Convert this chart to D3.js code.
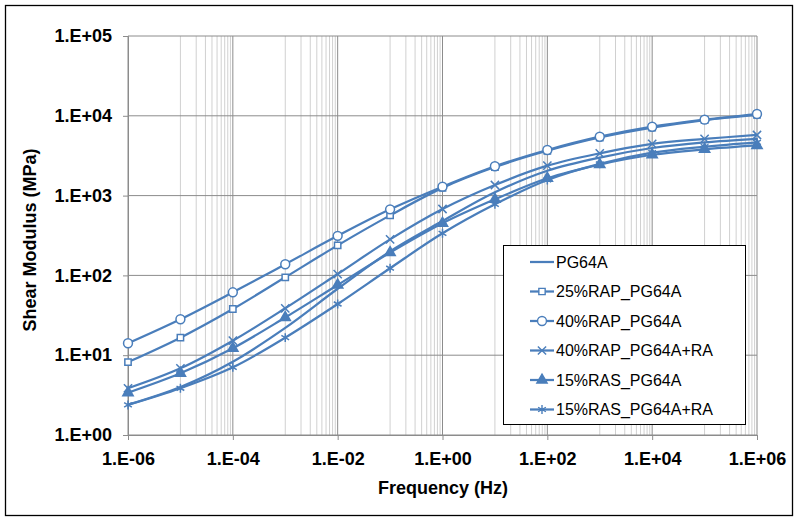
<!DOCTYPE html>
<html>
<head>
<meta charset="utf-8">
<script src="https://cdn.jsdelivr.net/npm/d3@7"></script>
<style>
  body { margin: 0; background: #fff; }
  svg text { font-family: "Liberation Sans", Arial, sans-serif; }
</style>
</head>
<body>
<div id="chart"></div>
<script>
// frequency points (Hz), one per decade
const frequencies = [1e-6, 1e-5, 1e-4, 1e-3, 1e-2, 1e-1, 1e0, 1e1, 1e2, 1e3, 1e4, 1e5, 1e6];

// shear modulus (MPa)
const pg64a        = [2.4, 4.0, 8.3, 22, 68, 200, 480, 1100, 2050, 3000, 3950, 4650, 5150];
const rap25        = [8.2, 16.6, 37.9, 94.7, 238, 565, 1250, 2280, 3650, 5350, 7100, 8850, 10300];
const rap40        = [14.1, 28.2, 61.4, 138, 313, 673, 1294, 2330, 3726, 5470, 7300, 8950, 10520];
const rap40ra      = [3.85, 6.85, 15.2, 38.7, 104, 283, 679, 1358, 2370, 3390, 4450, 5130, 5750];
const ras15        = [3.39, 5.93, 12.2, 29.7, 75.8, 193, 450, 898, 1650, 2450, 3250, 3800, 4250];
const ras15ra      = [2.38, 3.85, 7.05, 16.6, 43.8, 123, 337, 778, 1570, 2500, 3450, 4100, 4650];

const seriesNames  = ['PG64A', '25%RAP_PG64A', '40%RAP_PG64A', '40%RAP_PG64A+RA', '15%RAS_PG64A', '15%RAS_PG64A+RA'];
const seriesValues = [pg64a, rap25, rap40, rap40ra, ras15, ras15ra];
const seriesMarker = ['none', 'square', 'circle', 'times', 'triangle', 'asterisk'];

const xTickValues = [1e-6, 1e-4, 1e-2, 1e0, 1e2, 1e4, 1e6];
const yTickValues = [1e0, 1e1, 1e2, 1e3, 1e4, 1e5];

const width = 794;
const height = 517;
const blue = '#4a7ebb';

const svg = d3.select('#chart')
    .append('svg')
    .attr('width', width)
    .attr('height', height);

// outer frame
svg.append('rect')
    .attr('x', 5.5).attr('y', 5.5)
    .attr('width', 787).attr('height', 510)
    .attr('fill', 'none')
    .attr('stroke', '#000')
    .attr('stroke-width', 1.3);

const x = d3.scaleLog().domain([1e-6, 1e6]).range([128, 757]);
const y = d3.scaleLog().domain([1, 1e5]).range([435, 36]);

function sciLabel(v) {
    const e = Math.round(Math.log10(v));
    return '1.E' + (e < 0 ? '-' : '+') + String(Math.abs(e)).padStart(2, '0');
}

// minor vertical grid: every k*10^e inside the odd decades
let minorX = [];
for (let e = -5; e <= 5; e += 2) {
    for (let k = 1; k <= 9; k++) minorX.push(k * Math.pow(10, e));
}

const grid = svg.append('g');
grid.selectAll('line.minor')
    .data(minorX)
    .enter()
    .append('line')
    .attr('class', 'minor')
    .attr('x1', d => x(d)).attr('x2', d => x(d))
    .attr('y1', y(1e5)).attr('y2', y(1))
    .attr('stroke', '#d0d0d0')
    .attr('stroke-width', 1);

grid.selectAll('line.majx')
    .data(xTickValues)
    .enter()
    .append('line')
    .attr('class', 'majx')
    .attr('x1', d => x(d)).attr('x2', d => x(d))
    .attr('y1', y(1e5)).attr('y2', y(1))
    .attr('stroke', '#8c8c8c')
    .attr('stroke-width', 1);

grid.selectAll('line.majy')
    .data(yTickValues)
    .enter()
    .append('line')
    .attr('class', 'majy')
    .attr('x1', x(1e-6)).attr('x2', x(1e6))
    .attr('y1', d => y(d)).attr('y2', d => y(d))
    .attr('stroke', '#8c8c8c')
    .attr('stroke-width', 1);

// axes
const xAxis = svg.append('g')
    .attr('transform', 'translate(0,' + y(1) + ')')
    .call(d3.axisBottom(x).tickValues(xTickValues).tickFormat(sciLabel).tickSize(5).tickPadding(12));
const yAxis = svg.append('g')
    .attr('transform', 'translate(' + x(1e-6) + ',0)')
    .call(d3.axisLeft(y).tickValues(yTickValues).tickFormat(sciLabel).tickSize(5).tickPadding(11));

[xAxis, yAxis].forEach(a => {
    a.select('.domain').attr('stroke', '#8c8c8c');
    a.selectAll('.tick line').attr('stroke', '#8c8c8c');
    a.selectAll('.tick text')
        .attr('fill', '#000')
        .attr('font-size', 18)
        .attr('font-weight', 'bold')
        .style('font-family', '"Liberation Sans", Arial, sans-serif');
});

svg.append('text')
    .attr('x', 443).attr('y', 494)
    .attr('text-anchor', 'middle')
    .attr('font-size', 18)
    .attr('font-weight', 'bold')
    .text('Frequency (Hz)');

svg.append('text')
    .attr('transform', 'translate(36,240) rotate(-90)')
    .attr('text-anchor', 'middle')
    .attr('font-size', 18)
    .attr('font-weight', 'bold')
    .text('Shear Modulus (MPa)');

// markers
function markerPath(kind) {
    if (kind === 'circle') return d3.symbol(d3.symbolCircle, 62)();
    if (kind === 'square') return d3.symbol(d3.symbolSquare, 40)();
    if (kind === 'triangle') return d3.symbol(d3.symbolTriangle, 46)();
    if (kind === 'times') return d3.symbol(d3.symbolTimes || d3.symbolX, 46)();
    if (kind === 'asterisk') return d3.symbol(d3.symbolAsterisk, 56)();
    return null;
}
function markerFill(kind) {
    if (kind === 'circle' || kind === 'square') return '#fff';
    if (kind === 'triangle') return blue;
    return 'none';
}

const line = d3.line()
    .x((d, i) => x(frequencies[i]))
    .y(d => y(d))
    .curve(d3.curveCatmullRom);

const series = svg.append('g')
    .selectAll('g')
    .data(seriesValues)
    .enter()
    .append('g');

series.append('path')
    .attr('d', d => line(d))
    .attr('fill', 'none')
    .attr('stroke', blue)
    .attr('stroke-width', 2.25);

series.each(function (vals, si) {
    const kind = seriesMarker[si];
    if (kind === 'none') return;
    d3.select(this).selectAll('path.mk')
        .data(vals)
        .enter()
        .append('path')
        .attr('class', 'mk')
        .attr('transform', (d, i) => 'translate(' + x(frequencies[i]) + ',' + y(d) + ')')
        .attr('d', markerPath(kind))
        .attr('fill', markerFill(kind))
        .attr('stroke', blue)
        .attr('stroke-width', 1.5);
});

// legend
const legend = svg.append('g');
legend.append('rect')
    .attr('x', 503.5).attr('y', 245.5)
    .attr('width', 242).attr('height', 179)
    .attr('fill', '#fff')
    .attr('stroke', '#000')
    .attr('stroke-width', 1);

const items = legend.selectAll('g.item')
    .data(seriesNames)
    .enter()
    .append('g')
    .attr('class', 'item')
    .attr('transform', (d, i) => 'translate(0,' + (262 + i * 29.5) + ')');

items.append('line')
    .attr('x1', 530).attr('x2', 554)
    .attr('stroke', blue)
    .attr('stroke-width', 2.25);

items.each(function (name, i) {
    const kind = seriesMarker[i];
    if (kind === 'none') return;
    d3.select(this).append('path')
        .attr('transform', 'translate(542,0)')
        .attr('d', markerPath(kind))
        .attr('fill', markerFill(kind))
        .attr('stroke', blue)
        .attr('stroke-width', 1.4);
});

items.append('text')
    .attr('x', 556)
    .attr('dy', '0.35em')
    .attr('font-size', 16)
    .attr('fill', '#000')
    .text(d => d);
</script>
</body>
</html>
